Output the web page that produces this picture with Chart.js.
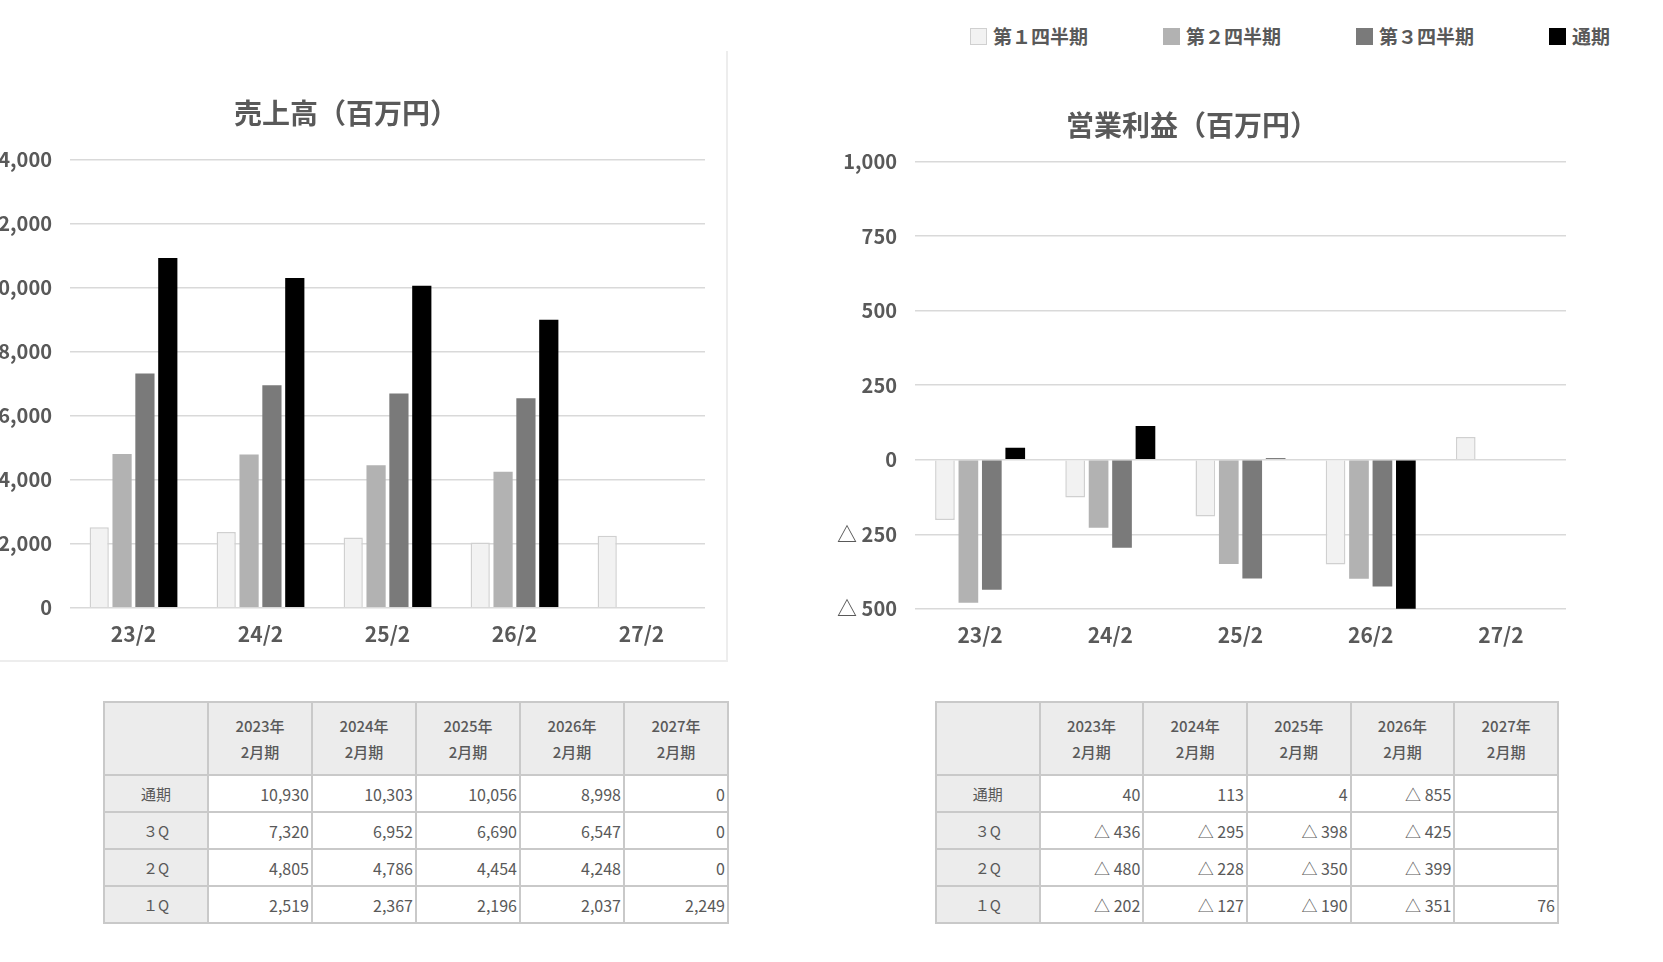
<!DOCTYPE html>
<html lang="ja">
<head>
<meta charset="utf-8">
<script src="https://cdn.jsdelivr.net/npm/chart.js@4/dist/chart.umd.min.js"></script>
<style>
  html, body { margin: 0; padding: 0; background: #fff; }
  body { width: 1663px; height: 962px; position: relative; overflow: hidden;
         font-family: "Noto Sans CJK JP", sans-serif; color: #595959; }
  .box { position: absolute; }
  .card { position: absolute; left: -5px; top: 51px; width: 731px; height: 609px;
          border-right: 2px solid #ededed; border-bottom: 2px solid #ededed; }
  #legend { position: absolute; left: 970px; top: 26px; height: 20px; }
  .item { position: absolute; top: 0; display: flex; align-items: center; white-space: nowrap;
          font-size: 19px; font-weight: bold; line-height: 20px; }
  .swatch { width: 17px; height: 17px; box-sizing: border-box; margin-right: 6px; }
  table { position: absolute; border-collapse: collapse; table-layout: fixed; }
  td, th { border: 2px solid #c9c9c9; padding: 0 2px; font-size: 16px; color: #595959; }
  th { background: #ececec; font-weight: 500; font-size: 15px; line-height: 26px; height: 71px; }
  td { height: 35px; text-align: right; }
  td.rowhead { background: #ececec; text-align: center; font-size: 15px; }
</style>
</head>
<body>
<div class="card"></div>
<div class="box" style="left:-13px; top:51px; width:725px; height:611px;"><canvas id="salesChart"></canvas></div>
<div class="box" style="left:818px; top:51px; width:804px; height:611px;"><canvas id="profitChart"></canvas></div>
<div id="legend"></div>
<table id="salesTable" style="left:103px; top:701px; width:626px;"></table>
<table id="profitTable" style="left:935px; top:701px; width:624px;"></table>
<script>
const categories = ['23/2', '24/2', '25/2', '26/2', '27/2'];
const fiscalYears = ['2023年', '2024年', '2025年', '2026年', '2027年'];
const seriesNames = ['第１四半期', '第２四半期', '第３四半期', '通期'];
const rowNames = ['１Q', '２Q', '３Q', '通期'];

const sales1Q = [2519, 2367, 2196, 2037, 2249];
const sales2Q = [4805, 4786, 4454, 4248, 0];
const sales3Q = [7320, 6952, 6690, 6547, 0];
const salesFull = [10930, 10303, 10056, 8998, 0];

const profit1Q = [-202, -127, -190, -351, 76];
const profit2Q = [-480, -228, -350, -399, null];
const profit3Q = [-436, -295, -398, -425, null];
const profitFull = [40, 113, 4, -855, null];

const salesTicks = { min: 0, max: 14000, step: 2000 };
const profitTicks = { min: -500, max: 1000, step: 250 };

const fills = ['#f2f2f2', '#b2b2b2', '#7a7a7a', '#000000'];
const borders = ['#d0d0d0', '#b2b2b2', '#7a7a7a', '#000000'];

Chart.defaults.font.family = '"Noto Sans CJK JP", sans-serif';
Chart.defaults.color = '#595959';

const fmt = (v) => {
    if (v === null || v === undefined) return '';
    if (v < 0) return '△ ' + Math.abs(v).toLocaleString('en-US');
    return v.toLocaleString('en-US');
};

const makeDatasets = (series) =>
    series.map((data, i) => ({
        label: seriesNames[i],
        data,
        backgroundColor: fills[i],
        borderColor: borders[i],
        borderWidth: i === 0 ? 1.5 : 0,
        categoryPercentage: 0.72,
        barPercentage: 0.84,
    }));

const makeChart = (id, title, series, range, axisWidth, padding, titleBottom) =>
    new Chart(document.getElementById(id), {
        type: 'bar',
        data: { labels: categories, datasets: makeDatasets(series) },
        options: {
            responsive: true,
            maintainAspectRatio: false,
            animation: false,
            layout: { padding },
            plugins: {
                legend: { display: false },
                tooltip: { enabled: false },
                title: {
                    display: true,
                    text: title,
                    color: '#595959',
                    font: { size: 28, weight: 'bold', lineHeight: 1.2 },
                    padding: { top: 0, bottom: titleBottom },
                },
            },
            scales: {
                x: {
                    grid: { display: false, drawTicks: false },
                    border: { display: false },
                    ticks: { padding: 14, font: { size: 21, weight: 'bold' }, color: '#595959' },
                },
                y: {
                    min: range.min,
                    max: range.max,
                    afterFit: (s) => { s.width = axisWidth; },
                    grid: { color: '#d9d9d9', lineWidth: 1.5, drawTicks: false },
                    border: { display: false },
                    ticks: {
                        stepSize: range.step,
                        padding: 18,
                        font: { size: 20, weight: 'bold' },
                        color: '#595959',
                        callback: (v) => fmt(v),
                    },
                },
            },
        },
    });

const salesChart = makeChart('salesChart', '売上高（百万円）',
    [sales1Q, sales2Q, sales3Q, salesFull], salesTicks, 83,
    { top: 46, right: 7, bottom: 1, left: 0 }, 29);

const profitChart = makeChart('profitChart', '営業利益（百万円）',
    [profit1Q, profit2Q, profit3Q, profitFull], profitTicks, 97,
    { top: 58, right: 56, bottom: 0, left: 0 }, 19);

// HTML legend from the datasets
const legend = document.getElementById('legend');
profitChart.data.datasets.forEach((ds, i) => {
    const item = document.createElement('div');
    item.className = 'item';
    item.style.left = (i * 193) + 'px';
    const sw = document.createElement('span');
    sw.className = 'swatch';
    sw.style.background = ds.backgroundColor;
    if (ds.borderWidth) sw.style.border = '1.5px solid ' + ds.borderColor;
    item.appendChild(sw);
    item.appendChild(document.createTextNode(ds.label));
    legend.appendChild(item);
});

// data tables, rows top to bottom: 通期, 3Q, 2Q, 1Q
const buildTable = (id, series) => {
    const t = document.getElementById(id);
    let html = '<tr><th></th>' + fiscalYears.map((y) => '<th>' + y + '<br>2月期</th>').join('') + '</tr>';
    for (let r = series.length - 1; r >= 0; r--) {
        html += '<tr><td class="rowhead">' + rowNames[r] + '</td>' +
            series[r].map((v) => '<td>' + fmt(v) + '</td>').join('') + '</tr>';
    }
    t.innerHTML = html;
};
buildTable('salesTable', [sales1Q, sales2Q, sales3Q, salesFull]);
buildTable('profitTable', [profit1Q, profit2Q, profit3Q, profitFull]);
</script>
</body>
</html>
